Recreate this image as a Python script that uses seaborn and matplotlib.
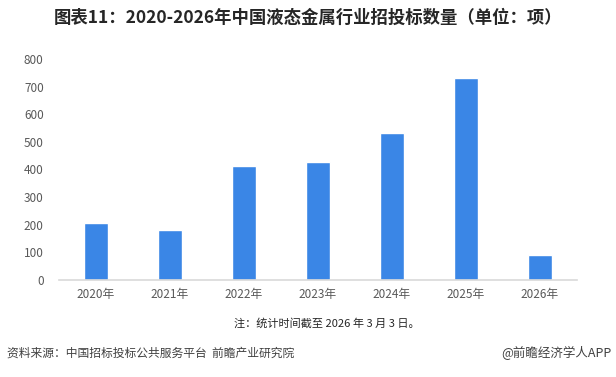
import pandas as pd
import seaborn as sns
import matplotlib.pyplot as plt

# data
years = ['2020年', '2021年', '2022年', '2023年', '2024年', '2025年', '2026年']
counts = [206, 181, 413, 427, 532, 731, 90]
yticks = [0, 100, 200, 300, 400, 500, 600, 700, 800]

df = pd.DataFrame({'Year': years, 'Count': counts})

sns.set_theme(style='white')
plt.rcParams['font.family'] = ['Noto Sans CJK SC', 'DejaVu Sans']

fig = plt.figure(figsize=(6.16, 3.77), dpi=100)
ax = fig.add_axes([59 / 616, 97 / 377, 518 / 616, 221 / 377])

sns.barplot(x='Year', y='Count', data=df, color='#3A86E6', width=0.32,
            saturation=1, ax=ax)

ax.set_xlim(-0.5, 6.5)
ax.set_ylim(0, 800)
ax.set_yticks(yticks)
ax.set_xlabel(None)
ax.set_ylabel(None)
ax.tick_params(axis='both', labelsize=8.5, colors='#595959', length=0, pad=6)
ax.tick_params(axis='y', pad=11)
for side in ['top', 'right', 'left']:
    ax.spines[side].set_visible(False)
ax.spines['bottom'].set_color('#D9D9D9')
ax.spines['bottom'].set_linewidth(1.2)

fig.text(0.5, 0.953, '图表11：2020-2026年中国液态金属行业招投标数量（单位：项）',
         ha='center', va='center', fontsize=12.5, fontweight='bold', color='#262626')
fig.text(0.53, 0.143, '注：统计时间截至 2026 年 3 月 3 日。',
         ha='center', va='center', fontsize=8, color='#262626')
fig.text(0.012, 0.063, '资料来源：中国招标投标公共服务平台  前瞻产业研究院',
         ha='left', va='center', fontsize=8.5, color='#404040')
fig.text(0.993, 0.063, '@前瞻经济学人APP',
         ha='right', va='center', fontsize=9, color='#404040')

fig.savefig('out.png', dpi=100)
plt.close()
